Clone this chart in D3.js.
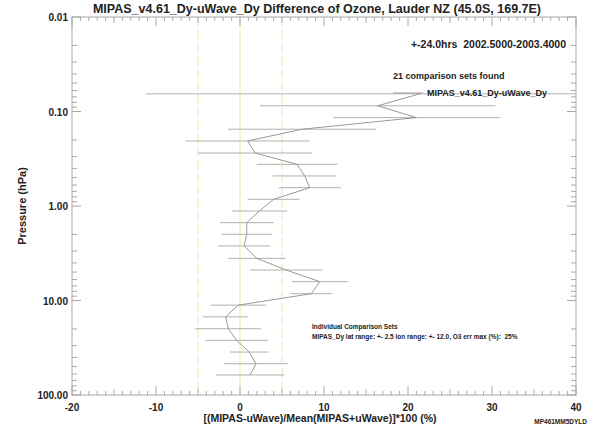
<!DOCTYPE html>
<html>
<head>
<meta charset="utf-8">
<script src="https://cdn.jsdelivr.net/npm/d3@7"></script>
<style>
    body { margin: 0; background: #fff; }
    svg text { font-family: "Liberation Sans", Arial, sans-serif; font-weight: bold; fill: #222; }
</style>
</head>
<body>
<div id="chart"></div>
<script>
// pressure levels (hPa), mean difference (%) and spread (%)
var pressure = [0.065, 0.087, 0.116, 0.154, 0.205, 0.275, 0.362, 0.481, 0.640, 0.849,
                1.13, 1.50, 1.99, 2.65, 3.58, 4.76, 6.32, 8.47, 11.2, 14.9,
                19.9, 26.4, 35.1, 46.7, 61.4];
var diff = [21.4, 16.4, 21.0, 7.4, 0.9, 1.8, 6.8, 7.7, 8.3, 4.0,
            2.3, 0.8, 0.8, 0.5, 2.0, 5.5, 9.5, 8.5, -0.2, -1.7,
            -1.4, -0.4, 1.1, 1.9, 1.2];
var spread = [32.6, 14.0, 9.9, 8.8, 7.4, 6.8, 4.8, 3.8, 3.7, 3.1,
              3.3, 3.2, 3.0, 3.1, 3.4, 4.3, 3.3, 2.5, 3.3, 2.7,
              3.9, 3.7, 2.3, 3.8, 4.1];
var xTicks = [-20, -10, 0, 10, 20, 30, 40];
var yTicks = [0.01, 0.1, 1, 10, 100];
var yTickLabels = ["0.01", "0.10", "1.00", "10.00", "100.00"];
var refLines = [-5, 0, 5];

var width = 591, height = 433,
    pLeft = 72, pRight = 576, pTop = 17, pBottom = 395;

var x = d3.scaleLinear().domain([-20, 40]).range([pLeft, pRight]);
var y = d3.scaleLog().domain([0.01, 100]).range([pTop, pBottom]);

var svg = d3.select("#chart").append("svg")
    .attr("width", width)
    .attr("height", height);

svg.append("defs").append("clipPath").attr("id", "plotClip")
    .append("rect")
    .attr("x", pLeft).attr("y", pTop)
    .attr("width", pRight - pLeft).attr("height", pBottom - pTop);

var data = pressure.map(function (p, i) {
    return {p: p, d: diff[i], e: spread[i]};
});

var layers = {};

/* LAYERS */
layers.refLines = function () {
    svg.append("g").selectAll("line")
        .data(refLines)
        .enter().append("line")
        .attr("x1", function (d) { return x(d); })
        .attr("x2", function (d) { return x(d); })
        .attr("y1", pTop)
        .attr("y2", pBottom)
        .attr("stroke", "#ede5aa")
        .attr("stroke-width", 1)
        .attr("stroke-dasharray", function (d) { return d === 0 ? null : "9,4"; });
};

layers.errorBars = function () {
    svg.append("g").attr("clip-path", "url(#plotClip)")
        .selectAll("line")
        .data(data)
        .enter().append("line")
        .attr("x1", function (d) { return x(d.d - d.e); })
        .attr("x2", function (d) { return x(d.d + d.e); })
        .attr("y1", function (d) { return y(d.p); })
        .attr("y2", function (d) { return y(d.p); })
        .attr("stroke", "#b0b0b0")
        .attr("stroke-width", 1);
};

layers.profile = function () {
    var line = d3.line()
        .x(function (d) { return x(d.d); })
        .y(function (d) { return y(d.p); });
    svg.append("path")
        .datum(data)
        .attr("d", line)
        .attr("fill", "none")
        .attr("stroke", "#999")
        .attr("stroke-width", 1);
};

layers.axes = function () {
    var col = "#a8a8a8";
    var g = svg.append("g");
    g.append("rect")
        .attr("x", pLeft).attr("y", pTop)
        .attr("width", pRight - pLeft).attr("height", pBottom - pTop)
        .attr("fill", "none").attr("stroke", col);

    // x ticks, top and bottom
    var xt = d3.range(-20, 41, 1);
    var tl = function (d) { return d % 10 === 0 ? 9 : (d % 5 === 0 ? 6 : 4); };
    g.selectAll("line.xb").data(xt).enter().append("line")
        .classed("xb", true)
        .attr("x1", function (d) { return x(d); })
        .attr("x2", function (d) { return x(d); })
        .attr("y1", pBottom)
        .attr("y2", function (d) { return pBottom - tl(d); })
        .attr("stroke", col);
    g.selectAll("line.xt").data(xt).enter().append("line")
        .classed("xt", true)
        .attr("x1", function (d) { return x(d); })
        .attr("x2", function (d) { return x(d); })
        .attr("y1", pTop)
        .attr("y2", function (d) { return pTop + tl(d); })
        .attr("stroke", col);

    // log ticks, left and right
    var yt = [];
    [0.01, 0.1, 1, 10].forEach(function (dec) {
        for (var k = 1; k < 10; k++) yt.push({v: dec * k, major: k === 1});
    });
    yt.push({v: 100, major: true});
    g.selectAll("line.yl").data(yt).enter().append("line")
        .classed("yl", true)
        .attr("x1", pLeft)
        .attr("x2", function (d) { return pLeft + (d.major ? 9 : 5); })
        .attr("y1", function (d) { return y(d.v); })
        .attr("y2", function (d) { return y(d.v); })
        .attr("stroke", col);
    g.selectAll("line.yr").data(yt).enter().append("line")
        .classed("yr", true)
        .attr("x1", pRight)
        .attr("x2", function (d) { return pRight - (d.major ? 9 : 5); })
        .attr("y1", function (d) { return y(d.v); })
        .attr("y2", function (d) { return y(d.v); })
        .attr("stroke", col);

    // tick labels
    g.selectAll("text.xl").data(xTicks).enter().append("text")
        .classed("xl", true)
        .attr("x", function (d) { return x(d); })
        .attr("y", pBottom + 16)
        .attr("text-anchor", "middle")
        .style("font-size", "10px")
        .text(function (d) { return d; });
    g.selectAll("text.ylab").data(yTicks).enter().append("text")
        .classed("ylab", true)
        .attr("x", pLeft - 4)
        .attr("y", function (d) { return y(d) + 4; })
        .attr("text-anchor", "end")
        .style("font-size", "10px")
        .text(function (d, i) { return yTickLabels[i]; });
};

layers.labels = function () {
    svg.append("text")
        .attr("x", 317).attr("y", 13)
        .attr("text-anchor", "middle")
        .style("font-size", "12.5px")
        .text("MIPAS_v4.61_Dy-uWave_Dy Difference of Ozone, Lauder NZ (45.0S, 169.7E)");
    svg.append("text")
        .attr("x", 566).attr("y", 48)
        .attr("text-anchor", "end")
        .style("font-size", "10.5px")
        .attr("xml:space", "preserve")
        .text("+-24.0hrs  2002.5000-2003.4000");
    svg.append("text")
        .attr("x", 393).attr("y", 79)
        .style("font-size", "9px")
        .text("21 comparison sets found");

    // legend
    svg.append("line")
        .attr("x1", 393).attr("x2", 423)
        .attr("y1", 93).attr("y2", 93)
        .attr("stroke", "#999");
    svg.append("text")
        .attr("x", 427).attr("y", 96)
        .style("font-size", "9px")
        .text("MIPAS_v4.61_Dy-uWave_Dy");

    svg.append("text")
        .attr("x", 312).attr("y", 329)
        .style("font-size", "6.5px")
        .text("Individual Comparison Sets");
    svg.append("text")
        .attr("x", 312).attr("y", 339)
        .style("font-size", "6.5px")
        .attr("xml:space", "preserve")
        .text("MIPAS_Dy lat range: +- 2.5 lon range: +- 12.0, O3 err max (%):  25%");

    svg.append("text")
        .attr("transform", "translate(26," + ((pTop + pBottom) / 2) + ") rotate(-90)")
        .attr("text-anchor", "middle")
        .style("font-size", "11px")
        .text("Pressure (hPa)");
    svg.append("text")
        .attr("x", 320).attr("y", 422)
        .attr("text-anchor", "middle")
        .style("font-size", "10.5px")
        .text("[(MIPAS-uWave)/Mean(MIPAS+uWave)]*100 (%)");
    svg.append("text")
        .attr("x", 587).attr("y", 424)
        .attr("text-anchor", "end")
        .style("font-size", "6.5px")
        .text("MP461MM5DYLD");
};

layers.refLines();
layers.errorBars();
layers.profile();
layers.axes();
layers.labels();
</script>
</body>
</html>
